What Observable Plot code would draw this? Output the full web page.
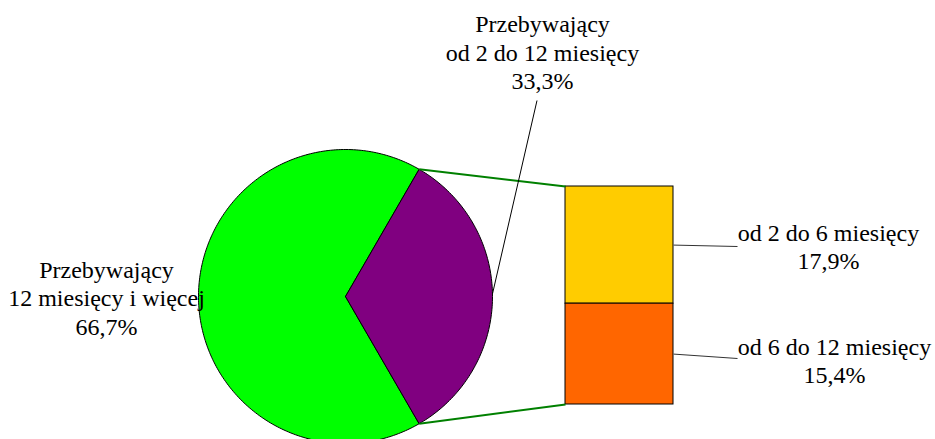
<!DOCTYPE html>
<html><head><meta charset="utf-8">
<script src="https://cdn.jsdelivr.net/npm/d3@7"></script>
<script src="https://cdn.jsdelivr.net/npm/@observablehq/plot@0.6"></script>
<style>body{margin:0;background:#fff}</style>
</head><body><div id="chart"></div>
<script>
const pieCategories = ["Przebywający\n12 miesięcy i więcej", "Przebywający\nod 2 do 12 miesięcy"];
const pieValues = [66.7, 33.3];
const pieLabels = ["66,7%", "33,3%"];
const pieColors = ["#00FF00", "#800080"];
const barCategories = ["od 2 do 6 miesięcy", "od 6 do 12 miesięcy"];
const barValues = [17.9, 15.4];
const barLabels = ["17,9%", "15,4%"];
const barColors = ["#FFCC00", "#FF6600"];

const W = 935, H = 439;
const cx = 345, cy = 296, R = 147;
const bx1 = 565, bx2 = 673, bTop = 186, bBot = 404;
const rad = a => a * Math.PI / 180;
const pt = (a, r = R) => [cx + r * Math.sin(rad(a)), cy - r * Math.cos(rad(a))];

const total = d3.sum(pieValues);
const splitSpan = pieValues[1] / total * 360;
let a0 = 90 + splitSpan / 2;
const slices = pieValues.map((v, i) => {
  const s = a0, e = a0 + v / total * 360; a0 = e;
  return {i, s, e};
});
const pieRows = [];
for (const sl of slices) {
  pieRows.push({z: sl.i, x: cx, y: cy});
  const n = Math.ceil(sl.e - sl.s);
  for (let k = 0; k <= n; k++) {
    const [x, y] = pt(sl.s + (sl.e - sl.s) * k / n);
    pieRows.push({z: sl.i, x, y});
  }
  pieRows.push({z: sl.i, x: cx, y: cy});
}

const barSum = d3.sum(barValues);
let cum = 0;
const barRows = barValues.map((v, i) => {
  const y1 = bTop + cum / barSum * (bBot - bTop);
  cum += v;
  const y2 = bTop + cum / barSum * (bBot - bTop);
  return {i, y1, y2, fill: barColors[i]};
});

const split = slices[1];
const [sx1, sy1] = pt(split.s);
const [sx2, sy2] = pt(split.e);
const connectors = [
  {x1: sx1, y1: sy1, x2: bx1, y2: bTop},
  {x1: sx2, y1: sy2, x2: bx1, y2: bBot}
];
const [lx, ly] = pt(89);
const leaders = [
  {x1: 536.5, y1: 100, x2: lx, y2: ly, c: "#000"},
  {x1: bx2, y1: (barRows[0].y1 + barRows[0].y2) / 2, x2: 737, y2: 246, c: "#333"},
  {x1: bx2, y1: (barRows[1].y1 + barRows[1].y2) / 2, x2: 737, y2: 358, c: "#333"}
];
const labels = [
  {x: 106, y: 296.5, t: pieCategories[0] + "\n" + pieLabels[0]},
  {x: 542, y: 51, t: pieCategories[1] + "\n" + pieLabels[1]},
  {x: 828, y: 245.5, t: barCategories[0] + "\n" + barLabels[0]},
  {x: 834, y: 359.5, t: barCategories[1] + "\n" + barLabels[1]}
];

const chart = Plot.plot({
  width: W, height: H,
  margin: 0,
  x: {domain: [0, W], range: [0, W], axis: null},
  y: {domain: [0, H], range: [0, H], axis: null},
  style: {background: "#fff"},
  marks: [
    Plot.line(pieRows, {x: "x", y: "y", z: "z", fill: d => pieColors[d.z], stroke: "#000", strokeWidth: 1, curve: "linear"}),
    Plot.rect(barRows, {x1: bx1, x2: bx2, y1: "y1", y2: "y2", fill: "fill", stroke: "#000", strokeWidth: 1}),
    Plot.link(connectors, {x1: "x1", y1: "y1", x2: "x2", y2: "y2", stroke: "#008000", strokeWidth: 2}),
    Plot.link(leaders, {x1: "x1", y1: "y1", x2: "x2", y2: "y2", stroke: "c", strokeWidth: 1}),
    Plot.text(labels, {x: "x", y: "y", text: "t", fontFamily: "Liberation Serif", fontSize: 24, lineHeight: 1.19, fill: "#000", textAnchor: "middle"})
  ]
});
document.getElementById("chart").appendChild(chart);
</script>
</body></html>
